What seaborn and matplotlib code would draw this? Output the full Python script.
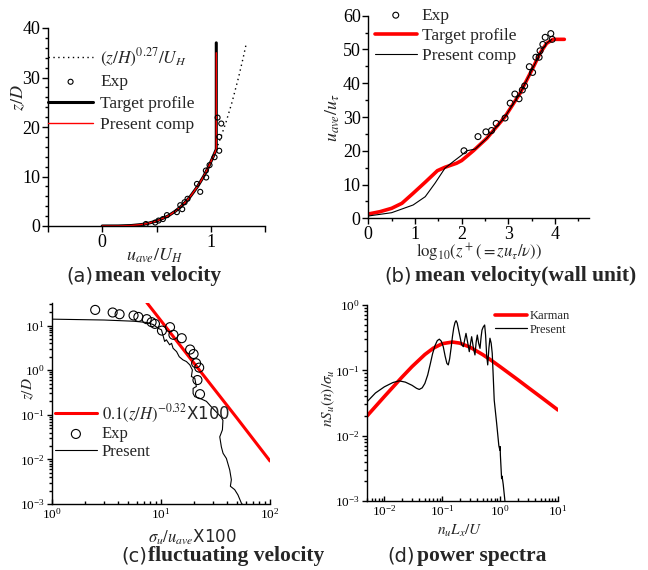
import matplotlib
matplotlib.use("Agg")
import matplotlib.pyplot as plt
import seaborn as sns
from matplotlib.ticker import (MultipleLocator, FixedLocator, FixedFormatter,
                               LogLocator, LogFormatterMathtext, NullFormatter)

# ---------------- (a) mean velocity ----------------
a_pow_u = [0, 0.145, 0.27, 0.362, 0.415, 0.501, 0.605, 0.674, 0.729, 0.774, 0.813,
           0.879, 0.934, 0.981, 1.022, 1.051, 1.094, 1.141, 1.196, 1.256, 1.299, 1.329]
a_pow_z = [0, 0.01, 0.1, 0.3, 0.5, 1, 2, 3, 4, 5, 6, 8, 10, 12, 14, 15.5, 18, 21, 25, 30, 34, 37]
a_exp_u = [1.063, 1.097, 1.078, 1.078, 1.035, 0.989, 0.955, 0.958, 0.873, 0.903, 0.786,
           0.759, 0.719, 0.737, 0.688, 0.596, 0.559, 0.519, 0.488, 0.402]
a_exp_z = [21.9, 20.7, 18.0, 15.2, 13.9, 12.3, 11.2, 9.8, 8.5, 6.9, 5.5,
           4.8, 4.2, 3.4, 2.8, 2.2, 1.4, 1.1, 0.7, 0.4]
a_tgt_u = [0, 0.145, 0.27, 0.362, 0.415, 0.501, 0.605, 0.674, 0.729, 0.774, 0.813,
           0.879, 0.934, 0.981, 1.022, 1.051, 1.051]
a_tgt_z = [0, 0.01, 0.1, 0.3, 0.5, 1, 2, 3, 4, 5, 6, 8, 10, 12, 14, 15.5, 37]
a_cmp_u = [0, 0.145, 0.27, 0.362, 0.415, 0.501, 0.605, 0.674, 0.729, 0.774, 0.813,
           0.879, 0.934, 0.981, 1.022, 1.051, 1.051]
a_cmp_z = [0, 0.01, 0.1, 0.3, 0.5, 1, 2, 3, 4, 5, 6, 8, 10, 12, 14, 15.5, 35]

# ---------------- (b) mean velocity (wall unit) ----------------
b_exp_x = [2.05, 2.35, 2.52, 2.64, 2.74, 2.93, 3.04, 3.14, 3.23, 3.30, 3.35, 3.45,
           3.52, 3.59, 3.66, 3.68, 3.74, 3.79, 3.91, 3.94]
b_exp_y = [20.0, 24.2, 25.6, 26.0, 28.1, 29.7, 34.1, 36.8, 35.4, 38.0, 39.2, 44.9,
           43.2, 47.7, 47.7, 49.6, 51.5, 53.6, 54.7, 53.0]
b_tgt_x = [0, 0.25, 0.5, 0.72, 0.96, 1.22, 1.48, 1.64, 1.89, 2.0, 2.25, 2.54, 2.93,
           3.25, 3.54, 3.68, 3.82, 3.96, 4.2]
b_tgt_y = [1.27, 1.96, 2.96, 4.44, 7.4, 10.7, 14.1, 15.1, 16.3, 17.1, 20.0, 23.7, 30.1,
           37.0, 44.9, 48.9, 51.8, 53.0, 53.0]
b_cmp_x = [0, 0.5, 0.96, 1.22, 1.43, 1.64, 1.82, 2.0, 2.11, 2.29, 2.54, 2.93, 3.25,
           3.54, 3.68, 3.82, 3.93]
b_cmp_y = [0.68, 1.66, 3.94, 6.4, 10.4, 14.8, 16.8, 18.7, 20.0, 20.5, 23.7, 30.1, 37.0,
           44.9, 48.9, 51.8, 53.0]

# ---------------- (c) fluctuating velocity ----------------
c_law_x = [7.4, 10, 20, 50, 100]
c_law_z = [32.8, 12.8, 1.45, 0.083, 0.0092]
c_exp_x = [2.49, 3.6, 4.17, 5.6, 6.2, 7.4, 8.2, 8.8, 12.1, 10.2, 13.0, 15.5, 18.5,
           19.9, 21.0, 22.4, 21.6, 22.8]
c_exp_z = [22.4, 19.6, 17.9, 16.8, 15.6, 13.9, 11.9, 10.9, 9.2, 7.7, 6.2, 5.2, 2.9,
           2.3, 1.43, 1.14, 0.60, 0.29]
c_cmp_x = [1.0, 3.0, 5.6, 7.4, 8.5, 9.4, 10.1, 10.8, 11.2, 12.0, 12.5, 12.9, 13.9,
           14.7, 15.9, 17.1, 18.4, 19.4, 19.0, 20.4, 21.1, 19.7, 19.7, 20.4, 22.6,
           26.1, 29.0, 32.2, 35.5, 37.0, 36.6, 34.6, 35.8, 37.1, 39.8, 42.7, 44.2,
           43.3, 47.4, 50.8, 54.6, 55.5]
c_cmp_z = [13.9, 13.3, 12.5, 11.7, 10.5, 8.7, 8.0, 4.4, 4.8, 3.7, 4.0, 3.1, 2.6,
           2.0, 1.7, 1.56, 1.31, 1.01, 0.72, 0.66, 0.43, 0.39, 0.30, 0.255, 0.235,
           0.2, 0.15, 0.115, 0.09, 0.075, 0.046, 0.032, 0.019, 0.0137, 0.0105, 0.0058,
           0.0035, 0.0025, 0.0021, 0.0016, 0.00105, 0.001]

# ---------------- (d) power spectra ----------------
d_kar_f = [0.005, 0.01, 0.02, 0.03, 0.05, 0.07, 0.1, 0.15, 0.2, 0.3, 0.5, 0.7, 1, 2,
           3, 5, 10]
d_kar_s = [0.020, 0.0398, 0.0782, 0.114, 0.1746, 0.2184, 0.256, 0.271, 0.261, 0.227,
           0.174, 0.1425, 0.1136, 0.0723, 0.0551, 0.0393, 0.0247]
d_cmp_f = [0.005, 0.007, 0.01, 0.014, 0.018, 0.023, 0.03, 0.036, 0.04, 0.045, 0.05,
           0.056, 0.062, 0.068, 0.075, 0.082, 0.089, 0.096, 0.104, 0.112, 0.12, 0.127,
           0.134, 0.142, 0.15, 0.158, 0.166, 0.173, 0.181, 0.19, 0.202, 0.215, 0.231,
           0.245, 0.257, 0.272, 0.293, 0.31, 0.322, 0.345, 0.367, 0.385, 0.403, 0.425,
           0.449, 0.47, 0.486, 0.51, 0.54, 0.56, 0.585, 0.61, 0.64, 0.667, 0.7, 0.73,
           0.76, 0.79, 0.87, 0.95, 0.99, 1.0, 1.01, 1.06, 1.08, 1.13, 1.21]
d_cmp_s = [0.033, 0.045, 0.056, 0.065, 0.069, 0.066, 0.059, 0.053, 0.051, 0.054, 0.063,
           0.085, 0.125, 0.18, 0.24, 0.285, 0.30, 0.28, 0.23, 0.165, 0.128, 0.121,
           0.15, 0.22, 0.33, 0.45, 0.54, 0.575, 0.53, 0.43, 0.33, 0.25, 0.23,
           0.30, 0.368, 0.28, 0.193, 0.27, 0.327, 0.22, 0.172, 0.27, 0.347, 0.26,
           0.217, 0.33, 0.414, 0.46, 0.494, 0.35, 0.17, 0.121, 0.22, 0.31, 0.26, 0.182,
           0.08, 0.035, 0.0155, 0.007, 0.006, 0.0068, 0.005, 0.0022, 0.0024, 0.0018, 0.001]

# ---------------- style ----------------
sns.set_theme(style="ticks", rc={"axes.edgecolor": "black", "xtick.color": "black",
                                 "ytick.color": "black", "axes.linewidth": 1.0})
plt.rcParams["font.family"] = ["Liberation Serif", "DejaVu Serif"]
plt.rcParams["mathtext.fontset"] = "stix"

W, H = 648, 570
fig = plt.figure(figsize=(W / 100, H / 100), dpi=100)


def add_ax(l, r, t, b):
    return fig.add_axes([l / W, 1 - b / H, (r - l) / W, (b - t) / H])


def open_circles(ax, lw=0.8):
    col = ax.collections[-1]
    col.set_facecolor("none")
    col.set_edgecolor("black")
    col.set_linewidth(lw)
    col.set_zorder(5)


def ftext(x, y, s, **kw):
    fig.text(x / W, 1 - y / H, s, **kw)


def title(xa, xb, y, tag, rest):
    ftext(xa, y, tag, family="DejaVu Sans", fontsize=14, ha="right", va="center")
    ftext(xb, y, rest, family="Liberation Serif", fontweight="bold", fontsize=15.5,
          ha="left", va="center")


def log_axes(ax):
    ax.set_xscale("log")
    ax.set_yscale("log")
    for axis in (ax.xaxis, ax.yaxis):
        axis.set_major_locator(LogLocator(base=10))
        axis.set_major_formatter(LogFormatterMathtext())
        axis.set_minor_locator(LogLocator(base=10, subs=range(2, 10)))
        axis.set_minor_formatter(NullFormatter())
    ax.tick_params(axis="x", which="both", direction="in")
    ax.tick_params(axis="y", which="both", direction="out")
    ax.tick_params(which="both", labelsize=9.5, length=3.5, width=1, pad=2)
    ax.tick_params(which="minor", length=2)


# ---------------- (a) ----------------
ax = add_ax(48, 265, 28, 226)
sns.lineplot(x=a_pow_u, y=a_pow_z, sort=False, estimator=None, color="black", lw=1.0,
             linestyle=(0, (1, 2.5)), ax=ax, label=r"$(z/H)^{0.27}/U_H$")
sns.scatterplot(x=a_exp_u, y=a_exp_z, ax=ax, marker="o", s=13, label="Exp")
open_circles(ax)
sns.lineplot(x=a_tgt_u, y=a_tgt_z, sort=False, estimator=None, color="black", lw=2.2,
             ax=ax, label="Target profile")
sns.lineplot(x=a_cmp_u, y=a_cmp_z, sort=False, estimator=None, color="red", lw=1.0,
             ax=ax, label="Present comp")
ax.set_xlim(-0.5, 1.5)
ax.set_ylim(0, 40)
ax.xaxis.set_major_locator(FixedLocator([-0.5, 0, 0.5, 1, 1.5]))
ax.xaxis.set_major_formatter(FixedFormatter(["", "0", "", "1", ""]))
ax.yaxis.set_major_locator(MultipleLocator(10))
ax.yaxis.set_minor_locator(MultipleLocator(2))
ax.tick_params(which="both", direction="out", labelsize=13, length=4, width=1, pad=1.5)
ax.tick_params(which="minor", length=2.5)
ax.set_xlabel(r"$u_{ave}/U_H$", fontsize=13)
ax.set_ylabel(r"$z/D$", fontsize=13)
ax.xaxis.set_label_coords(0.493, -0.105)
ax.yaxis.set_label_coords(-0.095, 0.646)
ax.legend(loc="upper left", bbox_to_anchor=(0, 0.905), frameon=False, fontsize=12.5,
          handlelength=2.6, handletextpad=0.4, labelspacing=0.3, borderaxespad=0,
          borderpad=0)
sns.despine(ax=ax)
title(93, 95, 276, "(a)", "mean velocity")

# ---------------- (b) ----------------
ax = add_ax(368.3, 589.3, 15.7, 218.3)
sns.scatterplot(x=b_exp_x, y=b_exp_y, ax=ax, marker="o", s=18, label="Exp")
open_circles(ax)
sns.lineplot(x=b_tgt_x, y=b_tgt_y, sort=False, estimator=None, color="red", lw=2.6,
             ax=ax, label="Target profile")
sns.lineplot(x=b_cmp_x, y=b_cmp_y, sort=False, estimator=None, color="black", lw=0.8,
             ax=ax, label="Present comp")
ax.set_xlim(0, 4.735)
ax.set_ylim(0, 60)
ax.xaxis.set_major_locator(MultipleLocator(1))
ax.xaxis.set_minor_locator(MultipleLocator(0.5))
ax.yaxis.set_major_locator(MultipleLocator(10))
ax.yaxis.set_minor_locator(MultipleLocator(5))
ax.tick_params(which="both", direction="out", labelsize=13, length=4, width=1, pad=1.5)
ax.tick_params(which="minor", length=2.5)
ax.set_xlabel(r"$\mathrm{log}_{10}(z^+(=zu_\tau/\nu))$", fontsize=12)
ax.set_ylabel(r"$u_{ave}/u_\tau$", fontsize=13)
ax.xaxis.set_label_coords(0.5, -0.115)
ax.yaxis.set_label_coords(-0.12, 0.495)
ax.legend(loc="upper left", bbox_to_anchor=(0.03, 1.04), frameon=False, fontsize=12.5,
          handlelength=2.4, handletextpad=0.3, labelspacing=0.22, borderaxespad=0,
          borderpad=0)
sns.despine(ax=ax)
title(412, 415, 276, "(b)", "mean velocity(wall unit)")

# ---------------- (c) ----------------
ax = add_ax(52, 270, 303, 504)
sns.lineplot(x=c_law_x, y=c_law_z, sort=False, estimator=None, color="red", lw=2.2,
             ax=ax, label=r"$0.1(z/H)^{-0.32}$X100")
sns.scatterplot(x=c_exp_x, y=c_exp_z, ax=ax, marker="o", s=42, label="Exp")
open_circles(ax)
sns.lineplot(x=c_cmp_x, y=c_cmp_z, sort=False, estimator=None, color="black", lw=0.8,
             ax=ax, label="Present")
log_axes(ax)
ax.set_xlim(1, 100)
ax.set_ylim(1e-3, 32)
ax.set_xlabel(r"$\sigma_u/u_{ave}$X100", fontsize=12, family="DejaVu Sans")
ax.set_ylabel(r"$z/D$", fontsize=11)
ax.xaxis.set_label_coords(0.642, -0.115)
ax.yaxis.set_label_coords(-0.075, 0.575)
leg = ax.legend(loc="upper left", bbox_to_anchor=(0.014, 0.505), frameon=False,
                fontsize=12, handlelength=2.5, handletextpad=0.3, labelspacing=0.1,
                borderaxespad=0, borderpad=0)
leg.get_texts()[0].set_family("DejaVu Sans")
sns.despine(ax=ax)
title(147, 148, 556, "(c)", "fluctuating velocity")

# ---------------- (d) ----------------
ax = add_ax(367, 558, 305, 501)
sns.lineplot(x=d_kar_f, y=d_kar_s, sort=False, estimator=None, color="red", lw=2.6,
             ax=ax, label="Karman")
sns.lineplot(x=d_cmp_f, y=d_cmp_s, sort=False, estimator=None, color="black", lw=0.9,
             ax=ax, label="Present")
log_axes(ax)
ax.set_xlim(0.005, 10)
ax.set_ylim(1e-3, 1)
ax.set_xlabel(r"$n_uL_x/U$", fontsize=11)
ax.set_ylabel(r"$nS_u(n)/\sigma_u$", fontsize=11)
ax.xaxis.set_label_coords(0.487, -0.112)
ax.yaxis.set_label_coords(-0.155, 0.526)
ax.legend(loc="upper left", bbox_to_anchor=(0.67, 0.975), frameon=False, fontsize=9,
          handlelength=2.6, handletextpad=0.2, labelspacing=0.15, borderaxespad=0,
          borderpad=0)
sns.despine(ax=ax)
title(415, 417, 556, "(d)", "power spectra")

fig.savefig("out.png", dpi=100)
